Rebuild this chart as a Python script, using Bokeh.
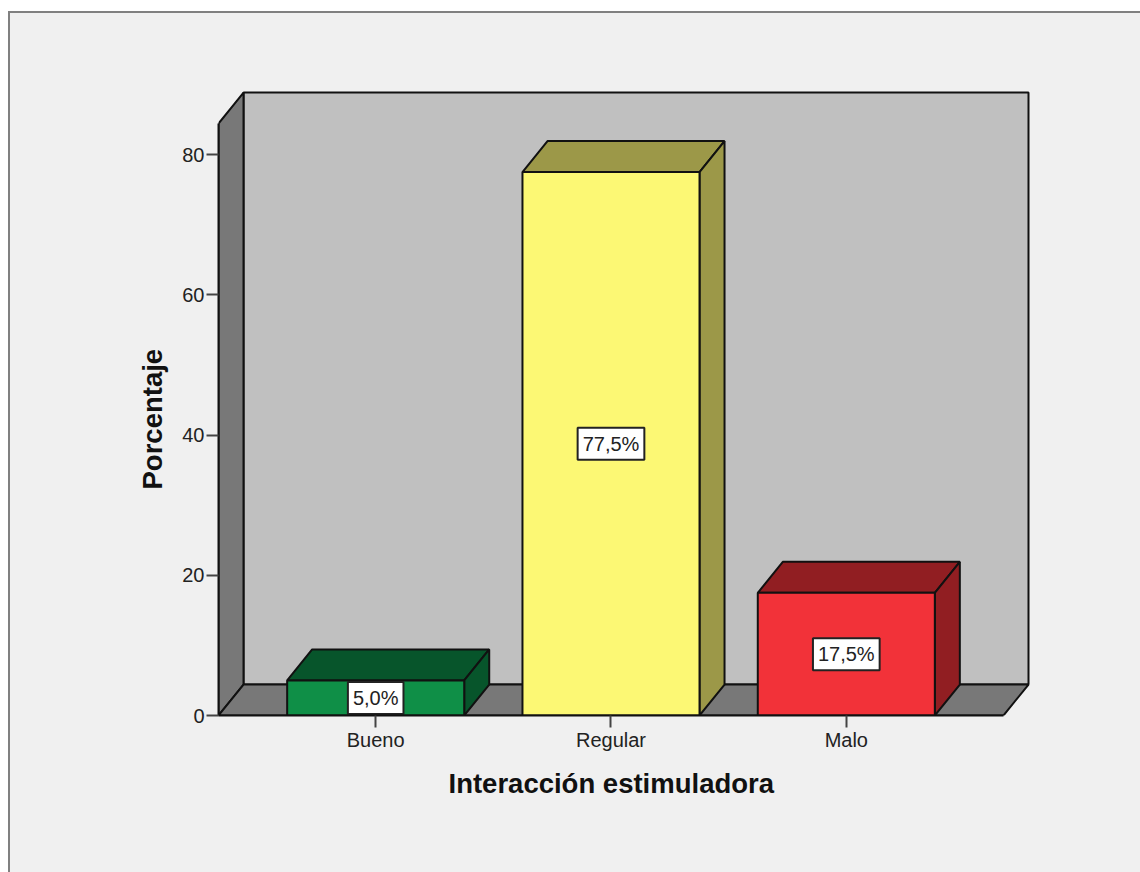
from bokeh.plotting import figure
from bokeh.models import ColumnDataSource, FixedTicker, Title
from bokeh.core.properties import value
from bokeh.embed import file_html
from bokeh.resources import INLINE

categories = ["Bueno", "Regular", "Malo"]
percentages = [5.0, 77.5, 17.5]
value_labels = ["5,0%", "77,5%", "17,5%"]
y_ticks = [0, 20, 40, 60, 80]
front_colors = ["#0F8F47", "#FCF874", "#F23239"]
top_colors = ["#07552B", "#9C9848", "#911E22"]
side_colors = ["#07552B", "#9C9848", "#911E22"]
x_title = "Interacción estimuladora"
y_title = "Porcentaje"

BG = "#F0F0F0"
WALL = "#C0C0C0"
SIDE = "#787878"
EDGE = "#111111"
FONT = "Liberation Sans"

BAR_W = 0.7524
PAD = 0.668
DX = 0.1063
DY = 4.42
WALL_TOP = 84.42
xs = list(range(len(categories)))
x0, x1 = -PAD, len(categories) - 1 + PAD

p = figure(
    width=1130, height=859,
    x_range=(x0, x1 + DX + 0.0085), y_range=(0, 89.13),
    output_backend="svg", toolbar_location=None,
    min_border_left=208, min_border_right=112, min_border_top=77, min_border_bottom=159,
    background_fill_color=BG, border_fill_color=BG,
    outline_line_color=None,
)
p.styles = {"margin-top": "11px",
            "margin-left": "8px",
            "border-top": "2px solid #808080",
            "border-left": "2px solid #808080",
            "background": BG,
            "box-sizing": "content-box"}
p.grid.visible = False

# walls
p.patch([x0 + DX, x1 + DX, x1 + DX, x0 + DX], [DY, DY, WALL_TOP + DY, WALL_TOP + DY],
        fill_color=WALL, line_color=EDGE, line_width=2)
p.patch([x0, x0 + DX, x0 + DX, x0], [0, DY, WALL_TOP + DY, WALL_TOP],
        fill_color=SIDE, line_color=EDGE, line_width=2)
p.patch([x0, x1, x1 + DX, x0 + DX], [0, 0, DY, DY],
        fill_color=SIDE, line_color=EDGE, line_width=2)

# bars
hw = BAR_W / 2
top_x = [[x - hw, x + hw, x + hw + DX, x - hw + DX] for x in xs]
top_y = [[v, v, v + DY, v + DY] for v in percentages]
side_x = [[x + hw, x + hw + DX, x + hw + DX, x + hw] for x in xs]
side_y = [[0, DY, v + DY, v] for v in percentages]
p.patches(top_x, top_y, fill_color=top_colors, line_color=EDGE, line_width=2)
p.patches(side_x, side_y, fill_color=side_colors, line_color=EDGE, line_width=2)
p.vbar(x=xs, top=percentages, bottom=0, width=BAR_W, fill_color=front_colors,
       line_color=EDGE, line_width=2)

# value labels
src = ColumnDataSource(dict(x=xs, y=[v / 2 for v in percentages], t=value_labels))
p.text("x", "y", text="t", source=src, text_align="center", text_baseline="middle",
       text_font=value(FONT), text_font_size="20px", text_color="#222222",
       background_fill_color="white", border_line_color="#222222", border_line_width=2,
       padding=5)

# axes
xa = p.xaxis[0]
xa.ticker = FixedTicker(ticks=xs)
xa.major_label_overrides = {i: c for i, c in enumerate(categories)}
xa.bounds = (x0, x1)
ya = p.yaxis[0]
ya.ticker = FixedTicker(ticks=y_ticks)
ya.bounds = (0, WALL_TOP)
for a in (xa, ya):
    a.axis_line_color = EDGE
    a.axis_line_width = 2
    a.major_tick_in = 0
    a.major_tick_out = 12
    a.major_tick_line_color = "#444444"
    a.major_tick_line_width = 2
    a.minor_tick_line_color = None
    a.major_label_text_font = FONT
    a.major_label_text_font_size = "20px"
    a.major_label_text_color = "#222222"
xa.major_label_standoff = 1
ya.major_label_standoff = 2

# axis titles centred on the box's front edges, which Bokeh's own axis labels cannot do
title_style = dict(text_font=FONT, text_font_style="bold", text_font_size="27.5px",
                   text_color="#111111", align="left")
p.add_layout(Title(text=x_title, offset=230, standoff=24, **title_style), "below")
p.add_layout(Title(text=y_title, offset=226, standoff=23, **title_style), "left")

open("out.html", "w").write(file_html(p, INLINE))
